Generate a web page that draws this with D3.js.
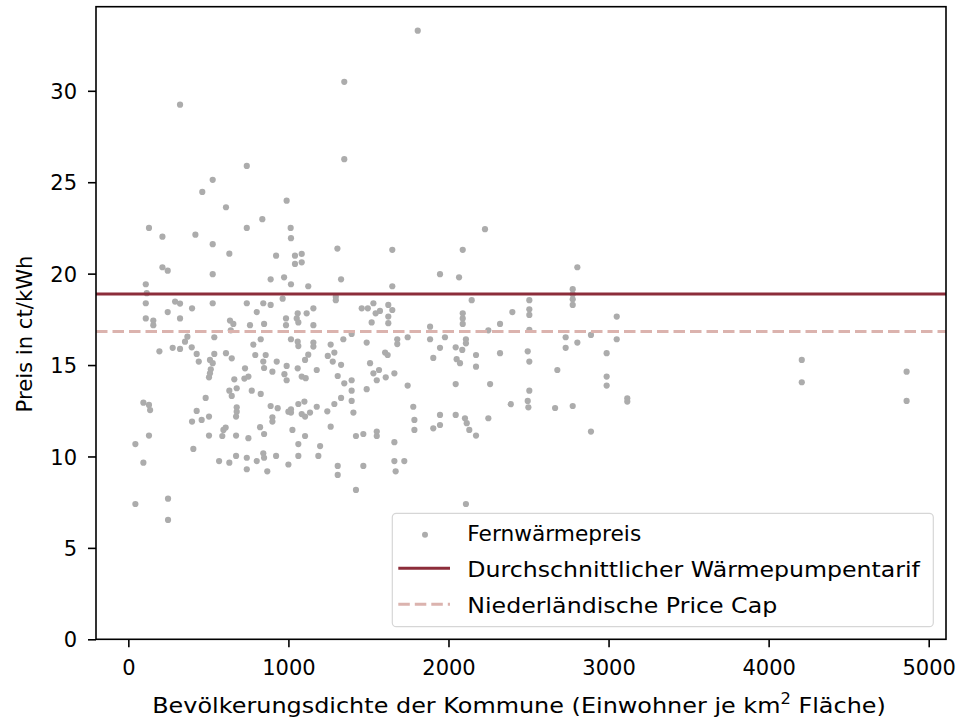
<!DOCTYPE html>
<html>
<head>
<meta charset="utf-8">
<script src="https://cdn.jsdelivr.net/npm/d3@7"></script>
<style>
  html, body { margin: 0; padding: 0; background: #fff; }
  svg { display: block; font-family: "DejaVu Sans", sans-serif; }
</style>
</head>
<body>
<svg id="chart" width="957" height="721"></svg>
<script>
// ---- Data ----
const density = [
  323, 740, 527, 462, 610, 989, 837, 129, 740, 213, 419, 527, 631, 923, 213, 246, 527, 889, 973, 109,
  115, 109, 292, 323, 246, 398, 527, 740, 843, 889, 964, 802, 109, 156, 156, 323, 635, 656, 760, 848,
  985, 985, 1014, 1016,
  369, 537, 640, 194, 277, 323, 354, 396, 427, 440, 510, 537, 527, 515, 510, 504, 610, 646, 781, 827,
  793, 858, 843, 848, 927, 900, 989, 975, 989, 729, 725, 750, 662, 631, 677, 646, 771, 827, 483, 94,
  129, 136, 427, 398, 458, 504, 677, 677, 673, 889, 933, 900, 900, 1000, 129, 44, 504, 594, 608, 587,
  673, 750, 823, 848, 406, 94, 567, 631, 673, 740, 740, 802, 843, 848, 868, 923, 1000, 248, 44, 248,
  1349, 1041, 1083, 1041, 1083, 1306, 1649, 2089, 1016, 1124, 1329, 1649, 1947, 2066, 1296, 1296, 2145, 1156, 1114, 1058,
  1052, 1062, 1156, 1458, 1496, 1531, 1545, 1572, 1520, 1624, 1649, 1624, 1624, 1885, 2089, 2089, 2089,
  1016, 1058, 1062, 1156, 1156, 1264, 1343, 1395, 1489, 1680, 1680, 1745, 1885, 1978, 2109, 2109, 1947, 2045, 2086, 1905,
  2051, 2072, 1124, 1104, 1246, 1287, 1277, 1329, 1510, 1604, 1620, 1058, 1177, 1083, 1108, 1308, 1349, 1395, 1531, 1566,
  1552, 1608, 1662, 1745, 2045, 1395, 1489, 1329, 1395, 1287, 1177, 1062, 1100, 1016, 1016, 1083, 1104, 1135, 1243, 1406,
  1780, 1787, 1787, 1947, 2045, 2103, 2114, 2130, 1947, 1905, 1025, 1104, 1264, 1422, 1468, 1552, 1552, 1662, 1062, 1198,
  1062, 1187, 1308, 1308, 1468, 1662, 1724, 1670, 1422, 2109,
  2228, 2805, 2505, 2399, 2505, 2505, 2322, 2505, 2249, 2776, 2776, 2776, 2776, 3051,
  2172, 2172, 2322, 2495, 2505, 2260, 2505, 2389, 2495, 2499, 2249, 2172, 2680, 2666, 2732, 2732, 2805, 2890, 2776, 2890,
  2988, 3051, 2988, 2988, 3117, 3117,
  1808, 1349, 4207, 4207, 4862, 4862
];
const price = [
  29.24, 25.89, 25.13, 24.47, 23.63, 23.99, 22.98, 22.50, 22.50, 22.02, 22.13, 21.61, 21.09, 20.98, 20.35, 20.16, 19.97, 19.69, 19.80, 19.42,
  18.93, 18.38, 18.47, 18.36, 17.90, 18.10, 18.38, 18.38, 18.38, 18.29, 18.63, 17.90, 17.55, 17.43, 17.18, 17.55, 17.43, 17.25, 17.18, 17.25,
  17.55, 17.18, 22.50, 21.94,
  16.55, 16.52, 16.90, 15.75, 15.94, 15.88, 16.28, 15.97, 15.61, 15.19, 15.28, 15.61, 15.10, 14.77, 14.55, 14.33, 15.65, 15.37, 16.12, 16.41,
  15.55, 15.55, 15.19, 14.84, 15.19, 14.64, 14.95, 14.50, 14.17, 14.82, 14.26, 14.37, 14.22, 13.60, 13.73, 13.31, 13.60, 13.42, 13.20, 12.94,
  12.82, 12.54, 12.49, 11.91, 12.00, 12.18, 12.69, 12.45, 12.18, 12.76, 12.64, 12.14, 11.91, 12.45, 11.14, 10.68, 11.14, 11.45, 11.58, 11.12,
  11.14, 11.00, 11.60, 11.23, 10.41, 9.66, 9.75, 9.66, 10.03, 9.93, 9.30, 9.75, 10.17, 9.93, 9.19, 10.03, 9.56, 7.69, 7.40, 6.53,
  26.26, 20.98, 21.08, 20.53, 20.62, 21.37, 21.30, 21.30, 19.42, 19.31, 19.69, 19.31, 19.97, 19.80, 18.74, 18.55, 18.55, 18.10, 17.83, 17.83,
  17.55, 17.33, 17.18, 18.10, 18.10, 18.38, 17.83, 17.96, 17.33, 18.29, 18.01, 17.65, 17.29, 17.10, 17.83, 17.55, 17.25,
  16.41, 16.28, 16.04, 16.23, 16.01, 16.12, 16.41, 16.70, 16.23, 16.41, 16.15, 16.52, 16.41, 16.52, 16.41, 16.19, 15.94, 15.97, 15.83, 15.39,
  15.32, 15.10, 15.57, 15.28, 15.50, 15.68, 15.19, 15.01, 15.10, 15.68, 15.55, 14.82, 14.73, 14.37, 14.28, 14.40, 14.00, 14.17, 14.55, 14.73,
  14.17, 14.33, 14.55, 13.88, 13.96, 13.60, 13.68, 13.20, 13.04, 12.87, 12.72, 12.87, 13.00, 12.58, 12.40, 12.32, 12.18, 12.40, 12.47, 12.40,
  12.72, 12.00, 11.45, 12.27, 12.27, 12.09, 11.82, 11.45, 11.72, 11.54, 11.45, 11.12, 11.63, 11.12, 11.23, 11.36, 11.12, 10.78, 10.68, 10.57,
  10.03, 10.03, 9.48, 8.99, 9.48, 9.75, 9.75, 9.19, 8.17, 7.40,
  22.43, 20.35, 18.55, 17.90, 18.05, 17.74, 17.25, 16.92, 16.90, 19.15, 18.87, 18.60, 18.29, 17.65,
  15.55, 14.91, 15.65, 15.75, 15.19, 13.96, 13.60, 12.86, 13.04, 12.69, 12.09, 11.14, 14.73, 12.65, 16.52, 15.94, 16.23, 16.65, 12.76, 11.36,
  15.65, 16.41, 14.37, 13.88, 13.18, 13.00,
  33.29, 30.49, 15.28, 14.06, 14.64, 13.04
];
const heatPumpTariff = 18.89;   // Durchschnittlicher Wärmepumpentarif
const dutchPriceCap = 16.83;    // Niederländische Price Cap
const xTicks = [0, 1000, 2000, 3000, 4000, 5000];
const yTicks = [0, 5, 10, 15, 20, 25, 30];
const legendLabels = ["Fernwärmepreis", "Durchschnittlicher Wärmepumpentarif", "Niederländische Price Cap"];
const xLabel = "Bevölkerungsdichte der Kommune (Einwohner je km";
const xLabelSup = "2";
const xLabelTail = " Fläche)";
const yLabel = "Preis in ct/kWh";

// ---- Layout ----
const svg = d3.select("#chart");
const plot = { left: 96, right: 946, top: 6.7, bottom: 639.3 };
const TICK_FONT = 21;
const LABEL_FONT = 22;

const x = d3.scaleLinear().domain([-202, 5108]).range([plot.left, plot.right]);
const y = d3.scaleLinear().domain([0, 34.6]).range([plot.bottom, plot.top]);

const points = density.map((d, i) => ({ x: d, y: price[i] }));

// stretch a text element horizontally (in its own frame) to a target width around an anchor
function fitWidth(sel, target, ax, ay, rot) {
  const node = sel.node();
  const w = node.getBBox().width;
  const s = target / w;
  sel.attr("transform", `translate(${ax},${ay})${rot ? ` rotate(${rot})` : ""} scale(${s},1)`);
}

// scatter
svg.append("g")
  .selectAll("circle")
  .data(points)
  .join("circle")
  .attr("cx", d => x(d.x))
  .attr("cy", d => y(d.y))
  .attr("r", 3.1)
  .attr("fill", "#acacac");

// reference lines
svg.append("line")
  .attr("x1", plot.left).attr("x2", plot.right)
  .attr("y1", y(heatPumpTariff)).attr("y2", y(heatPumpTariff))
  .attr("stroke", "#8c2d3a").attr("stroke-width", 3);
svg.append("line")
  .attr("x1", plot.left).attr("x2", plot.right)
  .attr("y1", y(dutchPriceCap)).attr("y2", y(dutchPriceCap))
  .attr("stroke", "#dbb3ae").attr("stroke-width", 3)
  .attr("stroke-dasharray", "11.5,5");

// axes
const xAxis = d3.axisBottom(x).tickValues(xTicks).tickSize(8).tickPadding(8).tickFormat(d3.format("d"));
const yAxis = d3.axisLeft(y).tickValues(yTicks).tickSize(8).tickPadding(11).tickFormat(d3.format("d"));

const gx = svg.append("g").attr("transform", `translate(0,${plot.bottom})`).call(xAxis);
const gy = svg.append("g").attr("transform", `translate(${plot.left},0)`).call(yAxis);
[gx, gy].forEach(g => {
  g.select(".domain").remove();
  g.selectAll(".tick line").attr("stroke", "#000").attr("stroke-width", 1.6);
  g.selectAll(".tick text")
    .attr("fill", "#000")
    .style("font-family", "DejaVu Sans")
    .style("font-size", TICK_FONT + "px");
});
gx.selectAll(".tick text").attr("dy", null).attr("y", 36.2);
gy.selectAll(".tick text").attr("dy", "0.36em");

// frame (spines)
svg.append("rect")
  .attr("x", plot.left).attr("y", plot.top)
  .attr("width", plot.right - plot.left).attr("height", plot.bottom - plot.top)
  .attr("fill", "none").attr("stroke", "#000").attr("stroke-width", 1.6);

// axis labels
const xl = svg.append("text")
  .attr("x", 0).attr("y", 0)
  .attr("text-anchor", "middle")
  .style("font-size", LABEL_FONT + "px").attr("fill", "#000");
xl.append("tspan").text(xLabel);
xl.append("tspan").text(xLabelSup).attr("dy", -9).style("font-size", "15px");
xl.append("tspan").text(xLabelTail).attr("dy", 9);
fitWidth(xl, 734, 519, 713, 0);

const yl = svg.append("text")
  .attr("x", 0).attr("y", 0)
  .attr("text-anchor", "middle")
  .style("font-size", LABEL_FONT + "px").attr("fill", "#000")
  .text(yLabel);
fitWidth(yl, 157, 32, 334, -90);

// legend
const lg = svg.append("g");
lg.append("rect")
  .attr("x", 392.3).attr("y", 513.3).attr("width", 541).attr("height", 113.4)
  .attr("rx", 4).attr("ry", 4)
  .attr("fill", "#fff").attr("fill-opacity", 0.8)
  .attr("stroke", "#d6d6d6").attr("stroke-width", 1.2);
const rowY = [532.3, 568.3, 604.3];
const legendWidths = [174, 454, 310];
lg.append("circle").attr("cx", 425).attr("cy", rowY[0] + 2.5).attr("r", 3).attr("fill", "#acacac");
lg.append("line").attr("x1", 398.3).attr("x2", 450).attr("y1", rowY[1]).attr("y2", rowY[1])
  .attr("stroke", "#8c2d3a").attr("stroke-width", 3);
lg.append("line").attr("x1", 398.3).attr("x2", 450).attr("y1", rowY[2]).attr("y2", rowY[2])
  .attr("stroke", "#dbb3ae").attr("stroke-width", 3).attr("stroke-dasharray", "11.5,5");
legendLabels.forEach((lab, i) => {
  const t = lg.append("text")
    .attr("x", 0).attr("y", 0)
    .style("font-size", LABEL_FONT + "px")
    .attr("fill", "#000")
    .text(lab);
  fitWidth(t, legendWidths[i], 467.3, rowY[i] + 8.4, 0);
});
</script>
</body>
</html>
